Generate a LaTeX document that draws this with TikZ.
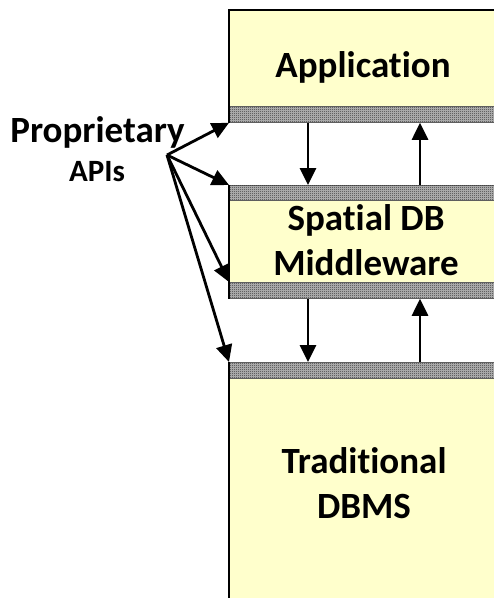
\documentclass[tikz,border=0pt]{standalone}
\usepackage{fontspec}
\setmainfont[Ligatures=NoCommon]{Carlito}
\usetikzlibrary{arrows.meta,patterns}
\definecolor{layeryellow}{RGB}{255,255,204}
\pgfdeclarepatternformonly{finechecks}{\pgfpointorigin}{\pgfqpoint{2pt}{2pt}}{\pgfqpoint{2pt}{2pt}}{%
    \pgfpathrectangle{\pgfpointorigin}{\pgfqpoint{1pt}{1pt}}%
    \pgfpathrectangle{\pgfqpoint{1pt}{1pt}}{\pgfqpoint{1pt}{1pt}}%
    \pgfusepath{fill}}

\begin{document}
\begin{tikzpicture}[x=1pt,y=-1pt,>={Triangle[length=17pt,width=16pt]},line width=2.8pt,
    layer/.style={fill=layeryellow,inner sep=0pt,anchor=north west,minimum width=300pt},
    bar/.style={fill=gray!55,draw=black!60,line width=0.8pt,inner sep=0pt,anchor=north west,minimum width=300pt,
        postaction={pattern=finechecks,pattern color=black!80}},
    big/.style={font=\bfseries\fontsize{37}{45}\selectfont,align=center},
    small/.style={font=\bfseries\fontsize{31}{36}\selectfont}]
    \useasboundingbox (0,0) rectangle (494,598);
    \clip (0,0) rectangle (494,598);

    % the three layers
    \node[layer,minimum height=96pt] (app) at (229,10) {};
    \node[bar,minimum height=16pt] (appbar) at (229,106) {};
    \node[bar,minimum height=15pt] (mwtop) at (229,185) {};
    \node[layer,minimum height=82pt] (mw) at (229,200) {};
    \node[bar,minimum height=16pt] (mwbot) at (229,282) {};
    \node[bar,minimum height=16pt] (dbbar) at (229,362) {};
    \node[layer,minimum height=240pt] (db) at (229,378) {};

    \draw (appbar.south west) |- (app.north east);
    \draw (mwtop.north west) -- (mwbot.south west);
    \draw (dbbar.north west) -- (db.south west);

    \node[big,anchor=base] (t1) at (363,77) {Application};
    \node[big] (t2) at (366,240) {Spatial DB\\Middleware};
    \node[big] (t3) at (364,483) {Traditional\\DBMS};

    % calls between layers
    \path[->]
        ([xshift=79pt]appbar.south west) edge ([xshift=79pt]mwtop.north west)
        ([xshift=191pt]mwtop.north west) edge ([xshift=191pt]appbar.south west)
        ([xshift=79pt]mwbot.south west) edge ([xshift=79pt]dbbar.north west)
        ([xshift=191pt]dbbar.north west) edge ([xshift=191pt]mwbot.south west);

    % proprietary apis
    \node[big,anchor=base] (prop) at (97.5,142) {Proprietary};
    \node[small,anchor=base] (apis) at (97,181) {APIs};
    \coordinate (src) at (167,155);
    \path[->]
        (src) edge (appbar.south west)
        (src) edge (mwtop.north west)
        (src) edge (mwbot.north west)
        (src) edge (dbbar.north west);
\end{tikzpicture}
\end{document}
